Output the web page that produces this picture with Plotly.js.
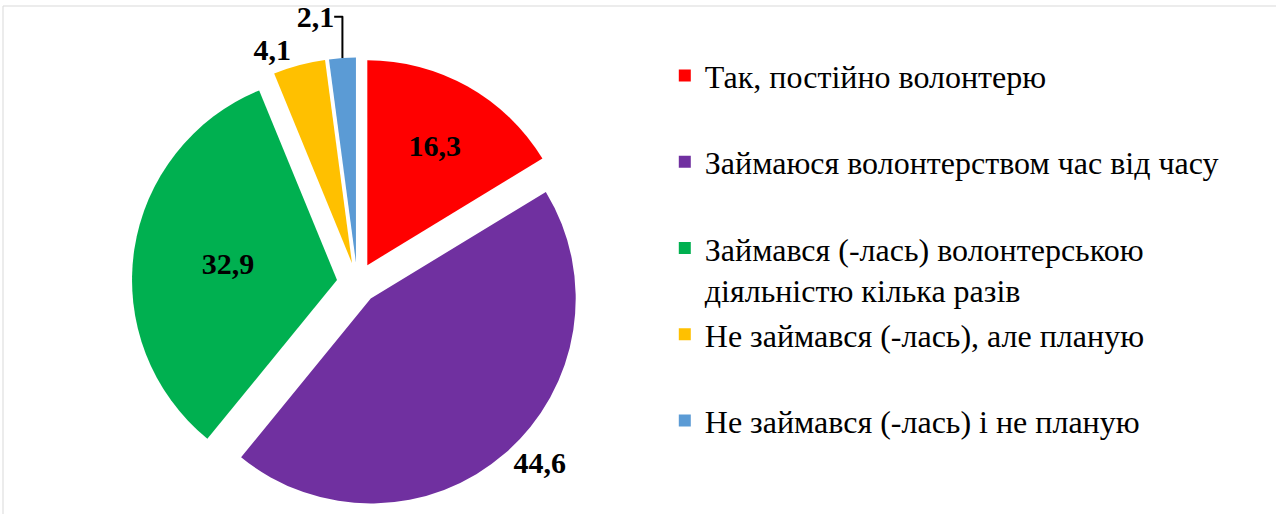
<!DOCTYPE html>
<html>
<head>
<meta charset="utf-8">
<script src="https://cdn.plot.ly/plotly-3.0.1.min.js"></script>
<style>html,body{margin:0;padding:0;background:#fff;}#chart{width:1276px;height:514px;}</style>
</head>
<body>
<div id="chart"></div>
<script>
const categories = [
  "Так, постійно волонтерю",
  "Займаюся волонтерством час від часу",
  "Займався (-лась) волонтерською<br>діяльністю кілька разів",
  "Не займався (-лась), але планую",
  "Не займався (-лась) і не планую"
];
const values = [16.3, 44.6, 32.9, 4.1, 2.1];
const colors = ["#FF0000", "#7030A0", "#00B050", "#FFC000", "#5B9BD5"];
const textPositions = ["inside", "outside", "inside", "outside", "outside"];

// single-line entries get an empty second line so every legend entry has equal height
const legendLabels = categories.map(c => c.indexOf('<br>') >= 0 ? c : c + '<br> ');

const trace = {
  type: 'pie',
  labels: legendLabels,
  values: values,
  sort: false,
  direction: 'clockwise',
  rotation: 0,
  pull: values.map(() => 0.1),
  marker: {colors: colors, line: {width: 0}},
  textinfo: 'value',
  textposition: textPositions,
  insidetextorientation: 'horizontal',
  textfont: {family: 'Liberation Serif', size: 30, color: '#000', weight: 'bold'},
  insidetextfont: {family: 'Liberation Serif', size: 30, color: '#000', weight: 'bold'},
  outsidetextfont: {family: 'Liberation Serif', size: 30, color: '#000', weight: 'bold'},
  hoverinfo: 'none',
  domain: {x: [0.08, 0.48], y: [0.0107, 0.888]}
};

const layout = {
  width: 1276, height: 514,
  margin: {l: 0, r: 0, t: 0, b: 0},
  paper_bgcolor: '#fff',
  separators: ', ',
  showlegend: true,
  legend: {
    x: 0.521, y: 0.906, xanchor: 'left', yanchor: 'top',
    valign: 'top',
    font: {family: 'Liberation Serif', size: 32, color: '#000'},
    bgcolor: 'rgba(0,0,0,0)'
  },
  shapes: [{
    type: 'rect', xref: 'paper', yref: 'paper',
    x0: 3/1276, x1: 1.02, y0: -0.02, y1: 1 - 6/514,
    line: {color: '#d9d9d9', width: 1}
  }]
};

Plotly.newPlot('chart', [trace], layout, {staticPlot: true});
</script>
</body>
</html>
